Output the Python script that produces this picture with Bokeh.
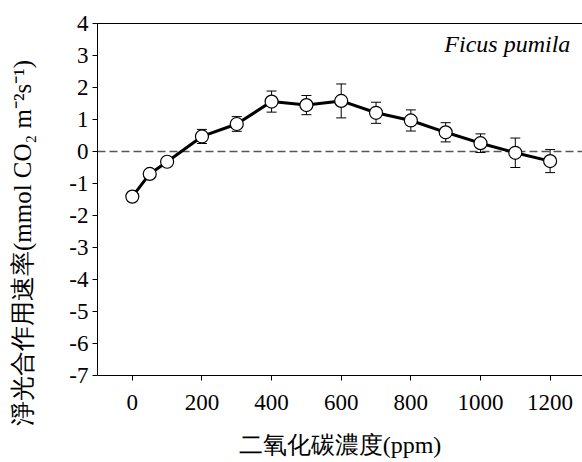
from bokeh.plotting import figure
from bokeh.models import (ColumnDataSource, Range1d, LinearAxis, FixedTicker,
                          Whisker, TeeHead, Span, Label)
from bokeh.embed import file_html
from bokeh.resources import INLINE

# ---- data ----
co2 = [0, 50, 100, 200, 300, 400, 500, 600, 700, 800, 900, 1000, 1100, 1200]
rate = [-1.41, -0.70, -0.32, 0.47, 0.86, 1.56, 1.45, 1.58, 1.21, 0.97, 0.60, 0.26, -0.04, -0.30]
err = [0.08, 0.05, 0.05, 0.22, 0.23, 0.33, 0.30, 0.53, 0.33, 0.33, 0.30, 0.29, 0.46, 0.36]
x_ticks = [0, 200, 400, 600, 800, 1000, 1200]
y_ticks = [-7, -6, -5, -4, -3, -2, -1, 0, 1, 2, 3, 4]
species = "Ficus pumila"
x_title = "二氧化碳濃度(ppm)"
y_title = "淨光合作用速率(mmol CO₂ m⁻²s⁻¹)"

SERIF = "Liberation Serif"
X0, X1 = -100, 1293
Y0, Y1 = -7, 4
# frame extends below the axis so the x-axis title has room (32 px per unit)
Y_FRAME_BOTTOM = Y0 - 87 / 32

src = ColumnDataSource(dict(
    x=co2, y=rate,
    upper=[r + e for r, e in zip(rate, err)],
    lower=[r - e for r, e in zip(rate, err)],
))

p = figure(width=582, height=462, output_backend="svg", toolbar_location=None,
           x_range=Range1d(X0, X1), y_range=Range1d(Y_FRAME_BOTTOM, Y1),
           min_border_left=97, min_border_top=23, min_border_bottom=0,
           min_border_right=0, outline_line_color=None,
           background_fill_color="white", border_fill_color="white")
p.grid.visible = False

for ax in (p.xaxis[0], p.yaxis[0]):
    ax.axis_line_color = "black"
    ax.axis_line_width = 1
    ax.major_tick_line_color = "black"
    ax.major_tick_in = 0
    ax.major_tick_out = 5
    ax.minor_tick_line_color = None
    ax.major_label_text_font = SERIF
    ax.major_label_text_font_size = "23px"
    ax.major_label_text_color = "black"
    ax.axis_label_text_font = SERIF
    ax.axis_label_text_font_style = "normal"
    ax.axis_label_text_color = "black"

p.xaxis[0].fixed_location = Y0
p.xaxis[0].bounds = (X0, X1)
p.yaxis[0].bounds = (Y0, Y1)
p.xaxis[0].ticker = FixedTicker(ticks=x_ticks)
p.yaxis[0].ticker = FixedTicker(ticks=y_ticks)
p.yaxis[0].major_label_overrides = {t: str(t) for t in y_ticks}
p.xaxis[0].axis_label = x_title
p.yaxis[0].axis_label = y_title
p.xaxis[0].axis_label_text_font_size = "24px"
p.yaxis[0].axis_label_text_font_size = "25px"
p.xaxis[0].major_label_standoff = 14
p.yaxis[0].major_label_standoff = 4
p.xaxis[0].axis_label_standoff = 19
p.yaxis[0].axis_label_standoff = 30

top = LinearAxis(ticker=FixedTicker(ticks=[]), axis_line_color="black",
                 major_tick_line_color=None, minor_tick_line_color=None,
                 major_label_text_font_size="1px")
p.add_layout(top, "above")

zero = Span(location=0, dimension="width", line_color="#555555",
            line_width=1.3, line_dash="8 4", level="underlay")
p.add_layout(zero)

wh = Whisker(source=src, base="x", upper="upper", lower="lower",
             line_color="black", line_width=1, level="underlay",
             upper_head=TeeHead(size=10, line_color="black", line_width=1),
             lower_head=TeeHead(size=10, line_color="black", line_width=1))
p.add_layout(wh)

p.line("x", "y", source=src, line_color="black", line_width=3)
p.scatter("x", "y", source=src, marker="circle", size=13,
          fill_color="white", line_color="black", line_width=1.2)

lab = Label(x=1258, y=3.37, text=species, text_align="right",
            text_baseline="alphabetic", text_font=SERIF,
            text_font_style="italic", text_font_size="24px", text_color="black")
p.add_layout(lab)

open("out.html", "w").write(file_html(p, INLINE))
